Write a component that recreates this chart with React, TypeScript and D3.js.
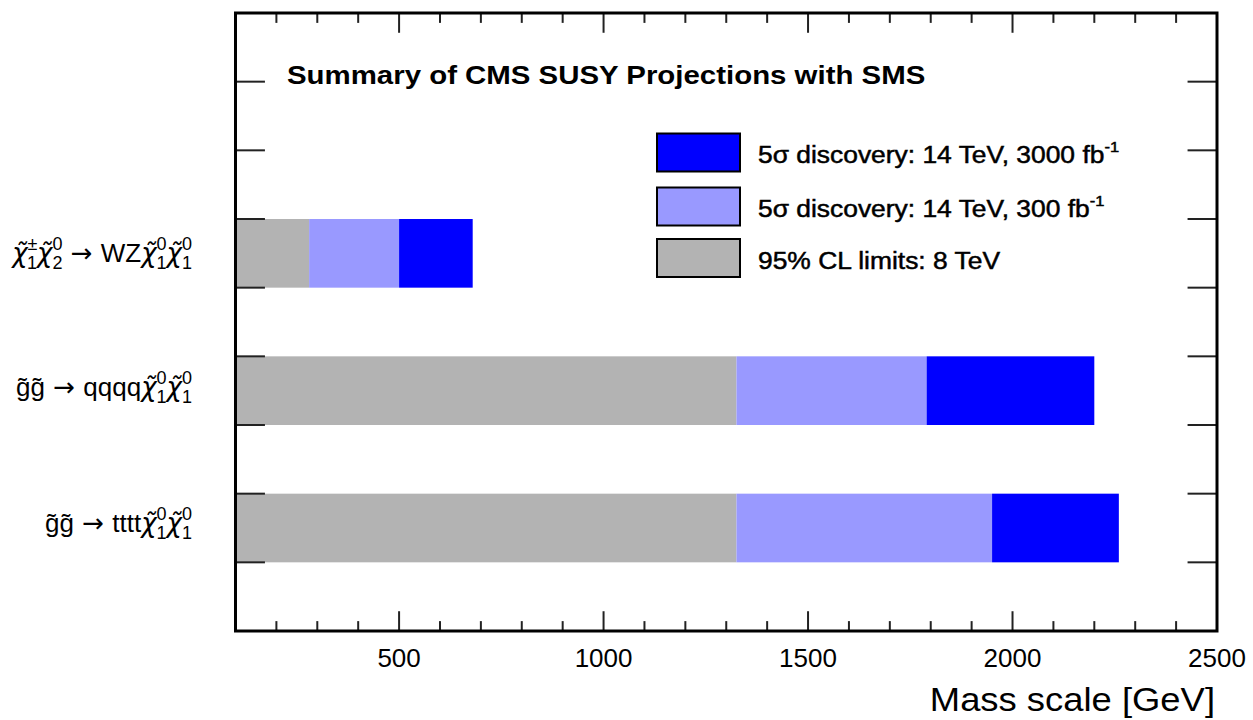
import React from "react";
import * as d3 from "d3";

// ---------- data ----------
const categories = [
  "χ̃±1χ̃02 → WZχ̃01χ̃01",
  "g̃g̃ → qqqqχ̃01χ̃01",
  "g̃g̃ → ttttχ̃01χ̃01",
];
// lower edge of each category's bin on the y axis (0..9)
const categoryBin = [5, 3, 1];
const limits8TeV = [280, 1325, 1325];
const disc300 = [500, 1790, 1950];
const disc3000 = [680, 2200, 2260];

const xMajorTicks = [500, 1000, 1500, 2000, 2500];
const xMinorTicks = d3.range(200, 2500, 100);
const yTicks = d3.range(1, 9);

const legendItems = [
  { label: "5σ discovery: 14 TeV, 3000 fb", sup: "-1", color: "#0000ff" },
  { label: "5σ discovery: 14 TeV, 300 fb", sup: "-1", color: "#9999ff" },
  { label: "95% CL limits: 8 TeV", sup: "", color: "#b3b3b3" },
];

type Seg = { base: string; sup?: string; sub?: string; kind?: "arrow" | "greek" };
const labelParts: Seg[][] = [
  [
    { base: "χ\u0303", sup: "±", sub: "1", kind: "greek" },
    { base: "χ\u0303", sup: "0", sub: "2", kind: "greek" },
    { base: " → ", kind: "arrow" },
    { base: "WZ" },
    { base: "χ\u0303", sup: "0", sub: "1", kind: "greek" },
    { base: "χ\u0303", sup: "0", sub: "1", kind: "greek" },
  ],
  [
    { base: "g\u0303g\u0303" },
    { base: " → ", kind: "arrow" },
    { base: "qqqq" },
    { base: "χ\u0303", sup: "0", sub: "1", kind: "greek" },
    { base: "χ\u0303", sup: "0", sub: "1", kind: "greek" },
  ],
  [
    { base: "g\u0303g\u0303" },
    { base: " → ", kind: "arrow" },
    { base: "tttt" },
    { base: "χ\u0303", sup: "0", sub: "1", kind: "greek" },
    { base: "χ\u0303", sup: "0", sub: "1", kind: "greek" },
  ],
];

// ---------- style ----------
const W = 1253;
const H = 720;
const FRAME = { left: 235.5, right: 1217, top: 13, bottom: 631 };
const FONT = "'Liberation Sans', Arial, Helvetica, sans-serif";
const DEJAVU = "'DejaVu Sans', sans-serif";
const COLORS = { gray: "#b3b3b3", light: "#9999ff", blue: "#0000ff" };
const LABEL_DY = [9, 5, 4];

function Label({ parts, x, y }: { parts: Seg[]; x: number; y: number }) {
  const base = 26;
  const small = 18;
  const supUp = 12;
  const subDown = 7;
  const nodes: React.ReactNode[] = [];
  let pos = 0; // current vertical offset (svg coords) relative to baseline
  parts.forEach((p, i) => {
    nodes.push(
      <tspan
        key={`b${i}`}
        fontSize={base}
        dy={-pos}
        fontFamily={p.kind ? DEJAVU : undefined}
        fontStyle={p.kind === "greek" ? "italic" : undefined}
      >
        {p.base}
      </tspan>
    );
    pos = 0;
    if (p.sup) {
      nodes.push(
        <tspan key={`p${i}`} fontSize={small} dy={-supUp}>
          {p.sup}
        </tspan>
      );
      pos = -supUp;
      if (p.sub) {
        const supW = (p.sup === "±" ? 0.584 : 0.556) * small;
        nodes.push(
          <tspan key={`s${i}`} fontSize={small} dx={-supW} dy={supUp + subDown}>
            {p.sub}
          </tspan>
        );
        pos = subDown;
      }
    }
  });
  return (
    <text x={x} y={y} textAnchor="end" fontFamily={FONT} fill="#000">
      {nodes}
    </text>
  );
}

export default function App() {
  const x = d3.scaleLinear().domain([100, 2500]).range([FRAME.left, FRAME.right]);
  const y = d3.scaleLinear().domain([0, 9]).range([FRAME.bottom, FRAME.top]);

  const fh = FRAME.bottom - FRAME.top;
  const fw = FRAME.right - FRAME.left;
  const xMajorLen = 0.032 * fh;
  const xMinorLen = xMajorLen / 2;
  const yTickLen = 0.03 * fw;

  return (
    <svg
      width={W}
      height={H}
      style={{ position: "absolute", left: 0, top: 0, background: "#fff" }}
    >
      <rect x={0} y={0} width={W} height={H} fill="#fff" />

      {/* bars */}
      {categories.map((c, i) => {
        const y0 = y(categoryBin[i] + 1);
        const h = y(categoryBin[i]) - y(categoryBin[i] + 1);
        return (
          <g key={c}>
            <rect x={x(100)} y={y0} width={x(limits8TeV[i]) - x(100)} height={h} fill={COLORS.gray} />
            <rect x={x(limits8TeV[i])} y={y0} width={x(disc300[i]) - x(limits8TeV[i])} height={h} fill={COLORS.light} />
            <rect x={x(disc300[i])} y={y0} width={x(disc3000[i]) - x(disc300[i])} height={h} fill={COLORS.blue} />
          </g>
        );
      })}

      {/* ticks */}
      <g stroke="#222" strokeWidth={2}>
        {xMinorTicks.map((t) => {
          const len = xMajorTicks.includes(t) ? xMajorLen : xMinorLen;
          return (
            <g key={t}>
              <line x1={x(t)} x2={x(t)} y1={FRAME.bottom} y2={FRAME.bottom - len} />
              <line x1={x(t)} x2={x(t)} y1={FRAME.top} y2={FRAME.top + len} />
            </g>
          );
        })}
        {yTicks.map((t) => (
          <g key={t}>
            <line x1={FRAME.left} x2={FRAME.left + yTickLen} y1={y(t)} y2={y(t)} />
            <line x1={FRAME.right} x2={FRAME.right - yTickLen} y1={y(t)} y2={y(t)} />
          </g>
        ))}
      </g>

      {/* frame */}
      <rect
        x={FRAME.left}
        y={FRAME.top}
        width={fw}
        height={fh}
        fill="none"
        stroke="#000"
        strokeWidth={3}
      />

      {/* x tick labels */}
      {xMajorTicks.map((t) => (
        <text
          key={t}
          x={x(t)}
          y={667}
          textAnchor="middle"
          fontFamily={FONT}
          fontSize={26}
          fill="#000"
        >
          {t}
        </text>
      ))}

      {/* x axis title */}
      <text
        transform={`translate(${1215},${711}) scale(1.12,1)`}
        textAnchor="end"
        fontFamily={FONT}
        fontSize={32.5}
        fill="#000"
      >
        Mass scale [GeV]
      </text>

      {/* category labels */}
      {categories.map((c, i) => (
        <Label
          key={c}
          parts={labelParts[i]}
          x={192}
          y={y(categoryBin[i] + 0.5) + LABEL_DY[i]}
        />
      ))}

      {/* title */}
      <text
        transform={`translate(${287},${83.5}) scale(1.11,1)`}
        fontFamily={FONT}
        fontSize={26.5}
        fontWeight="bold"
        fill="#000"
      >
        Summary of CMS SUSY Projections with SMS
      </text>

      {/* legend */}
      {legendItems.map((item, i) => {
        const boxTop = [133.5, 187.5, 239][i];
        return (
          <g key={item.label}>
            <rect
              x={657}
              y={boxTop}
              width={83}
              height={38}
              fill={item.color}
              stroke="#000"
              strokeWidth={2}
            />
            <text
              transform={`translate(${758},${boxTop + 29.5}) scale(1.1,1)`}
              fontFamily={FONT}
              fontSize={24}
              fill="#000"
              stroke="#000"
              strokeWidth={0.5}
            >
              {item.label}
              {item.sup && (
                <tspan fontSize={15} dy={-11}>
                  {item.sup}
                </tspan>
              )}
            </text>
          </g>
        );
      })}
    </svg>
  );
}
